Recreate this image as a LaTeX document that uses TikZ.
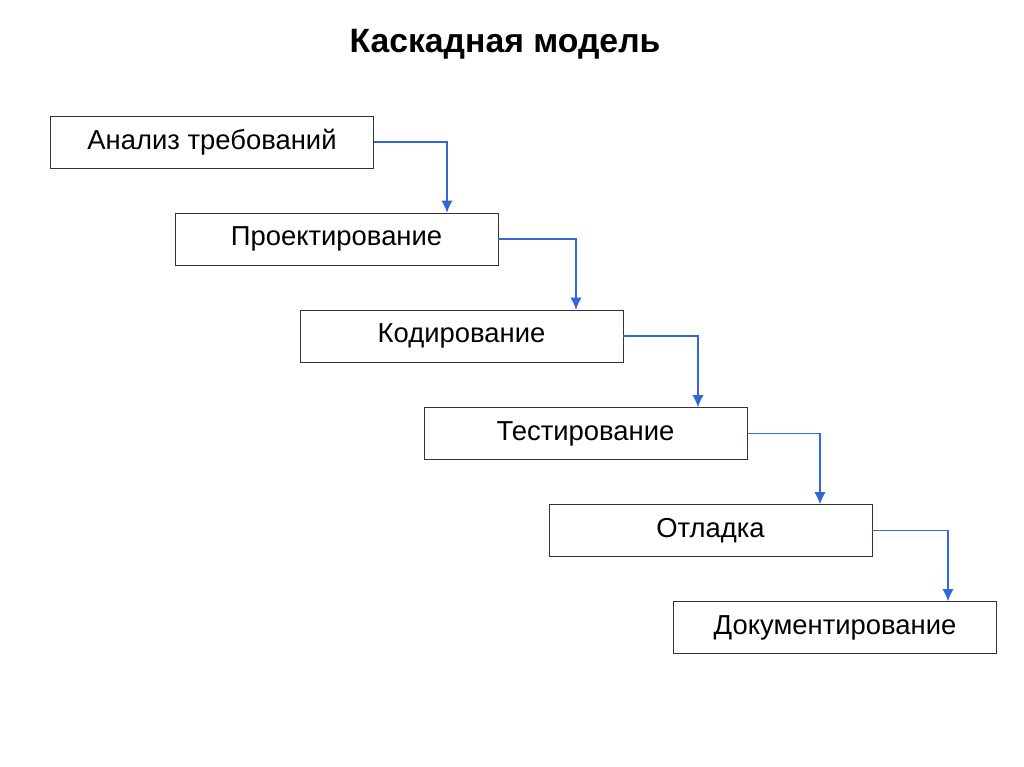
\documentclass[tikz,border=0pt]{standalone}
\usepackage{fontspec}
\setmainfont{Liberation Sans}
\usetikzlibrary{arrows.meta,positioning}
\definecolor{arrblue}{RGB}{51,102,221}
\begin{document}
\begin{tikzpicture}[
    x=0.025cm, y=-0.025cm,
    stage/.style={
        draw=black!80, thin, minimum width=8.075cm, minimum height=1.3cm,
        font=\fontsize{19.5}{22}\selectfont, inner sep=0pt
      },
    flow/.style={
        draw=arrblue, thick, -{Latex[length=3mm,width=2.8mm]}
      },
  ]
  \useasboundingbox (0,0) rectangle (1024,767);
  \node[font=\bfseries\fontsize{24}{28}\selectfont] (title) at (505,44) {Каскадная модель};

  \node[stage] (req) at (212,142) {\raisebox{4pt}{Анализ требований}};
  \node[stage] (des) at (336.5,239) {\raisebox{4pt}{Проектирование}};
  \node[stage] (cod) at (461.5,336) {\raisebox{4pt}{Кодирование}};
  \node[stage] (tst) at (585.5,433.5) {\raisebox{4pt}{Тестирование}};
  \node[stage] (dbg) at (710.5,530.5) {\raisebox{4pt}{Отладка}};
  \node[stage] (doc) at (835,627.5) {\raisebox{4pt}{Документирование}};

  \draw[flow] (req.east) -| (447,0 |- des.north);
  \draw[flow] (des.east) -| (576,0 |- cod.north);
  \draw[flow] (cod.east) -| (698,0 |- tst.north);
  \draw[flow] (tst.east) -| (820,0 |- dbg.north);
  \draw[flow] (dbg.east) -| (948,0 |- doc.north);
\end{tikzpicture}
\end{document}
